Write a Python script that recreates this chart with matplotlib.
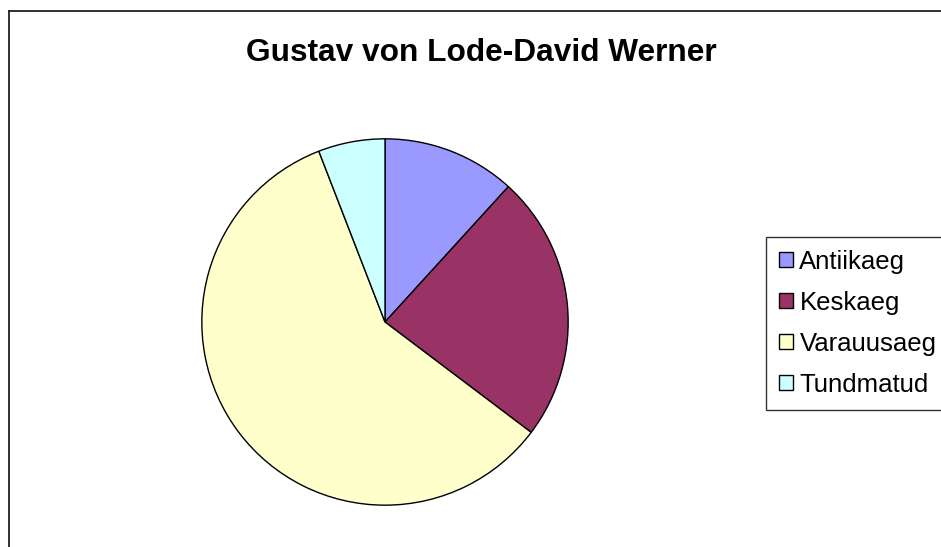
import matplotlib.pyplot as plt
from matplotlib.lines import Line2D

# Andmed
labels = ['Antiikaeg', 'Keskaeg', 'Varauusaeg', 'Tundmatud']
values = [2, 4, 10, 1]
colors = ['#9999FF', '#993366', '#FFFFCC', '#CCFFFF']
title = 'Gustav von Lode-David Werner'

W, H = 941, 547

plt.rcParams['font.family'] = ['Liberation Sans', 'DejaVu Sans']

fig = plt.figure(figsize=(W / 100, H / 100), dpi=100)

# raam ümber diagrammi
fig.add_artist(Line2D([8.5 / W, 8.5 / W], [0, 1 - 11 / H],
                      color='#222222', lw=1.3, transform=fig.transFigure))
fig.add_artist(Line2D([8.5 / W, 1], [1 - 11 / H, 1 - 11 / H],
                      color='#222222', lw=1.3, transform=fig.transFigure))

# pirukas: keskpunkt (385, 322), raadius 185 px
ax = fig.add_axes([200 / W, (H - 507) / H, 370 / W, 370 / H])
wedges, _ = ax.pie(values, colors=colors, startangle=90, counterclock=False,
                   radius=1, wedgeprops={'edgecolor': 'black', 'linewidth': 1})
ax.set_xlim(-1.01, 1.01)
ax.set_ylim(-1.01, 1.01)
ax.set_aspect('equal')
ax.axis('off')

fig.text(481 / W, 1 - 53 / H, title, ha='center', va='center',
         fontsize=22.8, fontweight='bold')

leg = fig.legend(wedges, labels, loc='upper left',
                 bbox_to_anchor=(766 / W, 1 - 237 / H),
                 bbox_transform=fig.transFigure, borderaxespad=0,
                 fontsize=18.5, handlelength=0.55, handleheight=0.55,
                 handletextpad=0.25, labelspacing=0.66, borderpad=0.5,
                 fancybox=False, frameon=True, edgecolor='black')
leg.get_frame().set_linewidth(1)

fig.savefig('out.png', dpi=100)
